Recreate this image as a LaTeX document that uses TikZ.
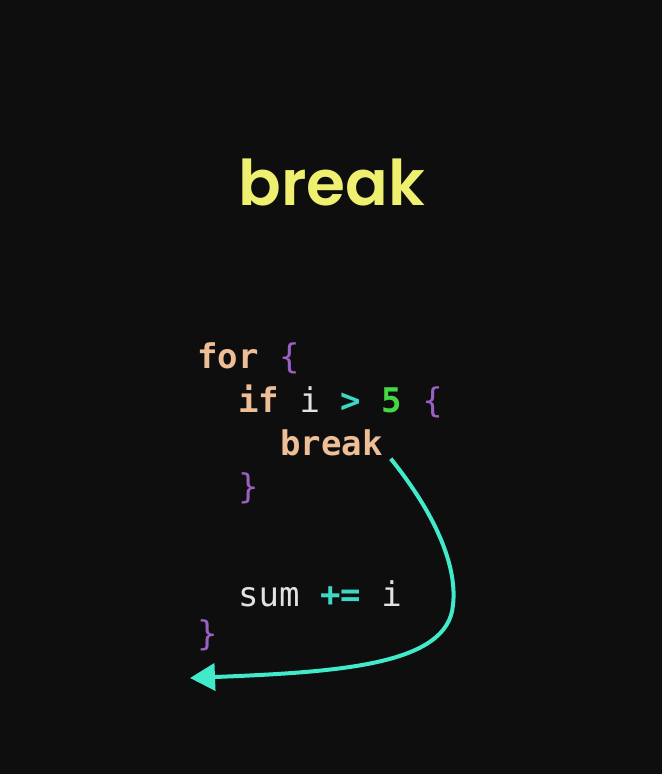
\documentclass[tikz,border=0pt]{standalone}
\usepackage{fontspec}
\setmainfont{Poppins}[BoldFont=* SemiBold]
\setmonofont{DejaVu Sans Mono}
\usetikzlibrary{arrows.meta}
\definecolor{bgc}{HTML}{0E0E0E}
\definecolor{titlec}{HTML}{F0F070}
\definecolor{kwc}{HTML}{EEBE96}
\definecolor{brc}{HTML}{9A60C4}
\definecolor{opc}{HTML}{3CD8C4}
\definecolor{numc}{HTML}{44D844}
\definecolor{idc}{HTML}{E2E2E2}
\definecolor{arrc}{HTML}{40EACA}
\begin{document}
\begin{tikzpicture}[x=1pt,y=-1pt,
  code/.style={anchor=base west,inner sep=0pt,font=\ttfamily\fontsize{34}{34}\selectfont},
  arr/.style={draw=arrc,line width=4pt,-{Triangle[length=25pt,width=27pt]}}]
\fill[bgc] (0,0) rectangle (662,774);
\useasboundingbox (0,0) rectangle (662,774);
\node[anchor=base,inner sep=0pt,text=titlec,font=\bfseries\fontsize{63}{63}\selectfont] (title) at (332,205) {break};
\node[code] (l1) at (197,368) {\textcolor{kwc}{\bfseries for} \textcolor{brc}{\{}};
\node[code] (l2) at (238,412) {\textcolor{kwc}{\bfseries if} \textcolor{idc}{i} \textcolor{opc}{\bfseries >} \textcolor{numc}{\bfseries 5} \textcolor{brc}{\{}};
\node[code] (l3) at (280,455) {\textcolor{kwc}{\bfseries break}};
\node[code] (l4) at (238,498) {\textcolor{brc}{\}}};
\node[code] (l5) at (238,606) {\textcolor{idc}{sum} \textcolor{opc}{\bfseries +=} \textcolor{idc}{i}};
\node[code] (l6) at (197,645) {\textcolor{brc}{\}}};
\coordinate (s) at (l3.south east);
\coordinate (e) at (190,678);
\draw[arr] ([shift={(8,3)}]s) .. controls (440,520) and (457,570) .. (453,605) .. controls (448,665) and (340,672) .. (e);
\end{tikzpicture}
\end{document}
